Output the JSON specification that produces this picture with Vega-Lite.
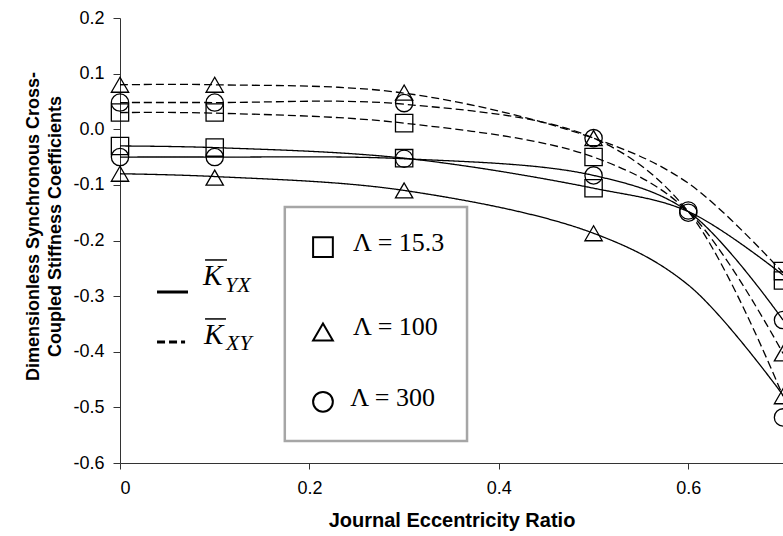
{
  "$schema": "https://vega.github.io/schema/vega-lite/v6.json",
  "autosize": "none",
  "width": 663,
  "height": 445,
  "padding": {"left": 120, "top": 18, "right": 0, "bottom": 73},
  "background": "white",
  "config": {"view": {"stroke": null}},
  "datasets": {
    "lines": [
      {"series": "A", "style": "dashed", "x": 0, "y": 0.08},
      {"series": "A", "style": "dashed", "x": 0.1, "y": 0.08},
      {"series": "A", "style": "dashed", "x": 0.3, "y": 0.065},
      {"series": "A", "style": "dashed", "x": 0.5, "y": -0.016},
      {"series": "A", "style": "dashed", "x": 0.6, "y": -0.097},
      {"series": "A", "style": "dashed", "x": 0.7, "y": -0.258},
      {"series": "B", "style": "dashed", "x": 0, "y": 0.048},
      {"series": "B", "style": "dashed", "x": 0.1, "y": 0.048},
      {"series": "B", "style": "dashed", "x": 0.3, "y": 0.045},
      {"series": "B", "style": "dashed", "x": 0.5, "y": -0.016},
      {"series": "B", "style": "dashed", "x": 0.6, "y": -0.148},
      {"series": "B", "style": "dashed", "x": 0.7, "y": -0.48},
      {"series": "C", "style": "dashed", "x": 0, "y": 0.03},
      {"series": "C", "style": "dashed", "x": 0.1, "y": 0.029},
      {"series": "C", "style": "dashed", "x": 0.3, "y": 0.011},
      {"series": "C", "style": "dashed", "x": 0.5, "y": -0.05},
      {"series": "C", "style": "dashed", "x": 0.6, "y": -0.148},
      {"series": "C", "style": "dashed", "x": 0.7, "y": -0.403},
      {"series": "D", "style": "solid", "x": 0, "y": -0.03},
      {"series": "D", "style": "solid", "x": 0.1, "y": -0.033},
      {"series": "D", "style": "solid", "x": 0.3, "y": -0.052},
      {"series": "D", "style": "solid", "x": 0.5, "y": -0.106},
      {"series": "D", "style": "solid", "x": 0.6, "y": -0.148},
      {"series": "D", "style": "solid", "x": 0.7, "y": -0.262},
      {"series": "E", "style": "solid", "x": 0, "y": -0.08},
      {"series": "E", "style": "solid", "x": 0.1, "y": -0.085},
      {"series": "E", "style": "solid", "x": 0.3, "y": -0.11},
      {"series": "E", "style": "solid", "x": 0.5, "y": -0.187},
      {"series": "E", "style": "solid", "x": 0.6, "y": -0.28},
      {"series": "E", "style": "solid", "x": 0.7, "y": -0.478},
      {"series": "F", "style": "solid", "x": 0, "y": -0.05},
      {"series": "F", "style": "solid", "x": 0.1, "y": -0.05},
      {"series": "F", "style": "solid", "x": 0.3, "y": -0.053},
      {"series": "F", "style": "solid", "x": 0.5, "y": -0.083},
      {"series": "F", "style": "solid", "x": 0.6, "y": -0.148},
      {"series": "F", "style": "solid", "x": 0.7, "y": -0.343}
    ],
    "markers": [
      {"shape": "square", "x": 0, "y": 0.03},
      {"shape": "square", "x": 0, "y": -0.03},
      {"shape": "triangle-up", "x": 0, "y": 0.08},
      {"shape": "triangle-up", "x": 0, "y": -0.08},
      {"shape": "circle", "x": 0, "y": 0.048},
      {"shape": "circle", "x": 0, "y": -0.05},
      {"shape": "square", "x": 0.1, "y": 0.03},
      {"shape": "square", "x": 0.1, "y": -0.033},
      {"shape": "triangle-up", "x": 0.1, "y": 0.08},
      {"shape": "triangle-up", "x": 0.1, "y": -0.087},
      {"shape": "circle", "x": 0.1, "y": 0.048},
      {"shape": "circle", "x": 0.1, "y": -0.05},
      {"shape": "triangle-up", "x": 0.3, "y": 0.066},
      {"shape": "circle", "x": 0.3, "y": 0.047},
      {"shape": "square", "x": 0.3, "y": 0.011},
      {"shape": "square", "x": 0.3, "y": -0.052},
      {"shape": "circle", "x": 0.3, "y": -0.053},
      {"shape": "triangle-up", "x": 0.3, "y": -0.11},
      {"shape": "triangle-up", "x": 0.5, "y": -0.016},
      {"shape": "circle", "x": 0.5, "y": -0.016},
      {"shape": "square", "x": 0.5, "y": -0.05},
      {"shape": "circle", "x": 0.5, "y": -0.083},
      {"shape": "square", "x": 0.5, "y": -0.106},
      {"shape": "triangle-up", "x": 0.5, "y": -0.187},
      {"shape": "circle", "x": 0.6, "y": -0.146},
      {"shape": "circle", "x": 0.6, "y": -0.15},
      {"shape": "square", "x": 0.7, "y": -0.255},
      {"shape": "square", "x": 0.7, "y": -0.272},
      {"shape": "circle", "x": 0.7, "y": -0.343},
      {"shape": "triangle-up", "x": 0.7, "y": -0.403},
      {"shape": "triangle-up", "x": 0.7, "y": -0.48},
      {"shape": "circle", "x": 0.7, "y": -0.518}
    ],
    "box": [{"x": 0.174, "x2": 0.3664, "y": -0.1398, "y2": -0.5605}],
    "legendItems": [
      {"shape": "square", "x": 0.2143, "y": -0.2117, "tx": 0.246, "ty": -0.218, "label": "Λ = 15.3"},
      {"shape": "triangle-up", "x": 0.2143, "y": -0.3645, "tx": 0.246, "ty": -0.3707, "label": "Λ = 100"},
      {"shape": "circle", "x": 0.2143, "y": -0.49, "tx": 0.243, "ty": -0.4967, "label": "Λ = 300"}
    ],
    "keyLines": [
      {"style": "solid", "x": 0.0391, "x2": 0.0718, "y": -0.2926},
      {"style": "dashed", "x": 0.0391, "x2": 0.0687, "y": -0.3826}
    ],
    "overlines": [
      {"x": 0.0898, "x2": 0.113, "y": -0.235},
      {"x": 0.0898, "x2": 0.1119, "y": -0.341}
    ],
    "bigK": [
      {"x": 0.0876, "y": -0.28, "t": "K"},
      {"x": 0.0887, "y": -0.386, "t": "K"}
    ],
    "subs": [
      {"x": 0.1109, "y": -0.2926, "t": "YX"},
      {"x": 0.112, "y": -0.3969, "t": "XY"}
    ]
  },
  "layer": [
    {
      "data": {"name": "box"},
      "mark": {"type": "rect", "fill": "white", "stroke": "#a6a6a6", "strokeWidth": 2.5},
      "encoding": {
        "x": {"field": "x", "type": "quantitative", "scale": {"domain": [0, 0.7], "nice": false, "zero": false},
          "axis": {"values": [0, 0.2, 0.4, 0.6], "labelExpr": "datum.value == 0 ? '0' : format(datum.value, '.1f')",
            "title": "Journal Eccentricity Ratio", "grid": false, "domainColor": "#333", "tickColor": "#333",
            "tickSize": 6, "labelPadding": 10, "labelFont": "Liberation Sans", "labelFontSize": 18, "labelColor": "black",
            "titleFont": "Liberation Sans", "titleFontSize": 20, "titleFontWeight": "bold", "titleColor": "black", "titlePadding": 13}},
        "x2": {"field": "x2"},
        "y": {"field": "y", "type": "quantitative", "scale": {"domain": [-0.6, 0.2], "nice": false, "zero": false},
          "axis": {"values": [-0.6, -0.5, -0.4, -0.3, -0.2, -0.1, 0, 0.1, 0.2],
            "labelExpr": "replace(format(datum.value, '.1f'), '\u2212', '-')",
            "title": ["Dimensionless Synchronous Cross-", "Coupled Stiffness Coefficients"],
            "grid": false, "domainColor": "#333", "tickColor": "#333", "tickSize": 7, "labelPadding": 9,
            "labelFont": "Liberation Sans", "labelFontSize": 18, "labelColor": "black",
            "titleFont": "Liberation Sans", "titleFontSize": 18, "titleFontWeight": "bold", "titleColor": "black",
            "titleLineHeight": 22, "titlePadding": 8, "titleY": 208}},
        "y2": {"field": "y2"}
      }
    },
    {
      "data": {"name": "lines"},
      "mark": {"type": "line", "interpolate": "catmull-rom", "color": "black", "strokeWidth": 1.3},
      "encoding": {
        "x": {"field": "x", "type": "quantitative"},
        "y": {"field": "y", "type": "quantitative"},
        "detail": {"field": "series"},
        "strokeDash": {"field": "style", "type": "nominal", "scale": {"domain": ["solid", "dashed"], "range": [[1, 0], [8, 4]]}, "legend": null}
      }
    },
    {
      "data": {"name": "markers"},
      "mark": {"type": "point", "filled": false, "color": "black", "strokeWidth": 1.3, "size": 300, "opacity": 1},
      "encoding": {
        "x": {"field": "x", "type": "quantitative"},
        "y": {"field": "y", "type": "quantitative"},
        "shape": {"field": "shape", "type": "nominal", "scale": null}
      }
    },
    {
      "data": {"name": "legendItems"},
      "mark": {"type": "point", "filled": false, "color": "black", "strokeWidth": 2, "size": 390, "opacity": 1},
      "encoding": {
        "x": {"field": "x", "type": "quantitative"},
        "y": {"field": "y", "type": "quantitative"},
        "shape": {"field": "shape", "type": "nominal", "scale": null}
      }
    },
    {
      "data": {"name": "legendItems"},
      "mark": {"type": "text", "font": "Liberation Serif", "fontSize": 26, "align": "left", "baseline": "alphabetic", "color": "black"},
      "encoding": {
        "x": {"field": "tx", "type": "quantitative"},
        "y": {"field": "ty", "type": "quantitative"},
        "text": {"field": "label"}
      }
    },
    {
      "data": {"name": "keyLines"},
      "mark": {"type": "rule", "color": "black", "strokeWidth": 3},
      "encoding": {
        "x": {"field": "x", "type": "quantitative"},
        "x2": {"field": "x2"},
        "y": {"field": "y", "type": "quantitative"},
        "strokeDash": {"field": "style", "type": "nominal", "scale": {"domain": ["solid", "dashed"], "range": [[1, 0], [9, 9]]}, "legend": null}
      }
    },
    {
      "data": {"name": "overlines"},
      "mark": {"type": "rule", "color": "black", "strokeWidth": 1.5},
      "encoding": {
        "x": {"field": "x", "type": "quantitative"},
        "x2": {"field": "x2"},
        "y": {"field": "y", "type": "quantitative"}
      }
    },
    {
      "data": {"name": "bigK"},
      "mark": {"type": "text", "font": "Liberation Serif", "fontStyle": "italic", "fontSize": 29, "align": "left", "baseline": "alphabetic", "color": "black"},
      "encoding": {
        "x": {"field": "x", "type": "quantitative"},
        "y": {"field": "y", "type": "quantitative"},
        "text": {"field": "t"}
      }
    },
    {
      "data": {"name": "subs"},
      "mark": {"type": "text", "font": "Liberation Serif", "fontStyle": "italic", "fontSize": 22, "align": "left", "baseline": "alphabetic", "color": "black"},
      "encoding": {
        "x": {"field": "x", "type": "quantitative"},
        "y": {"field": "y", "type": "quantitative"},
        "text": {"field": "t"}
      }
    }
  ]
}
